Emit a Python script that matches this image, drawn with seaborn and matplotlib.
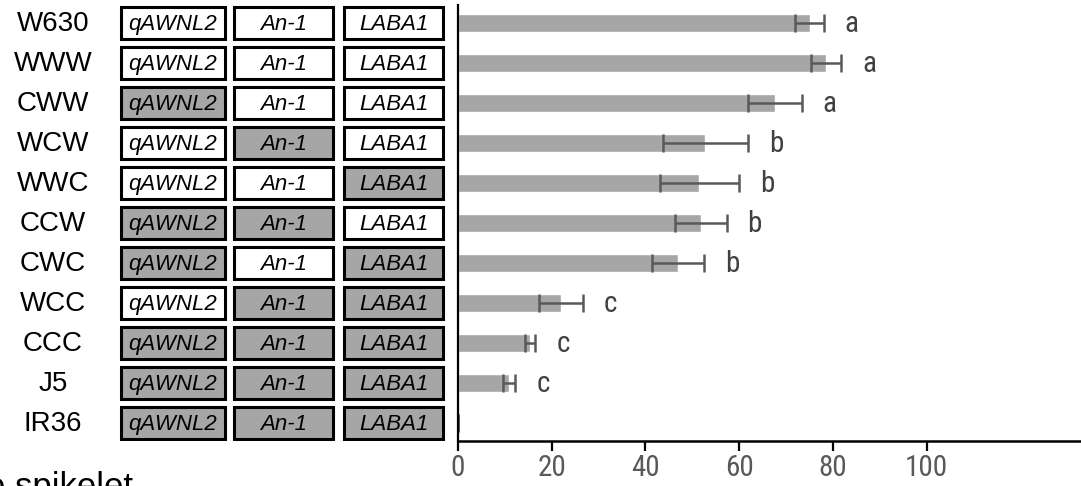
import pandas as pd
import matplotlib
matplotlib.use("Agg")
import matplotlib.pyplot as plt
from matplotlib import font_manager
from matplotlib.patches import Rectangle
import seaborn as sns

# Lines, top to bottom
lines = ['W630', 'WWW', 'CWW', 'WCW', 'WWC', 'CCW', 'CWC', 'WCC', 'CCC', 'J5', 'IR36']
# allele at each locus (W = white box, C = grey box)
alleles = ['WWW', 'WWW', 'CWW', 'WCW', 'WWC', 'CCW', 'CWC', 'WCC', 'CCC', 'CCC', 'CCC']
loci = ['qAWNL2', 'An-1', 'LABA1']

means = [75.0, 78.5, 67.6, 52.8, 51.5, 51.8, 46.9, 21.9, 15.4, 10.9, 0.0]
errs = [3.0, 3.2, 5.7, 9.1, 8.4, 5.5, 5.6, 4.7, 1.1, 1.3, 0.0]
groups = ['a', 'a', 'a', 'b', 'b', 'b', 'b', 'c', 'c', 'c', '']

x_ticks = [0, 20, 40, 60, 80, 100]

df = pd.DataFrame({'line': lines, 'mean': means, 'err': errs})

sns.set_style("white")
plt.rcParams['font.family'] = ['Liberation Sans', 'DejaVu Sans']

# the numbers in the reference use a condensed face; take one if installed
installed = {f.name for f in font_manager.fontManager.ttflist}
narrow = [f for f in ['Liberation Sans Narrow', 'Roboto Condensed', 'Open Sans Condensed',
                      'DejaVu Sans Condensed'] if f in installed] + ['Liberation Sans']
has_narrow = narrow[0] != 'Liberation Sans'
tick_size = 21 if has_narrow else 18
letter_size = 21 if has_narrow else 18

W, H = 1081, 486
fig = plt.figure(figsize=(W / 100, H / 100), dpi=100)

ax_bottom = (H - 441) / H
ax_height = (441 - 5) / H
ax = fig.add_axes([458 / W, ax_bottom, (W - 458) / W, ax_height])

sns.barplot(data=df, x='mean', y='line', orient='h', color='#a6a6a6',
            width=0.43, errorbar=None, saturation=1, ax=ax)
ax.errorbar(df['mean'], range(len(df)), xerr=df['err'], fmt='none',
            ecolor='#595959', elinewidth=1.8, capsize=6.5, capthick=1.8)

for i, (m, e, g) in enumerate(zip(means, errs, groups)):
    ax.text(m + e + 6, i + 0.02, g, ha='center', va='center',
            fontsize=letter_size, color='#404040', family=narrow)

ax.set_xlim(0, (W - 458) / 4.687)
ax.set_ylim(10.45, -0.45)
ax.set_xticks(x_ticks)
ax.set_xticklabels([str(t) for t in x_ticks], fontsize=tick_size, color='#595959',
                   family=narrow)
ax.tick_params(axis='x', direction='out', length=7, width=1.6, color='black',
               pad=2, bottom=True)
ax.set_yticks([])
ax.set_xlabel('')
ax.set_ylabel('')
for s in ['top', 'right']:
    ax.spines[s].set_visible(False)
ax.spines['left'].set_linewidth(1.6)
ax.spines['bottom'].set_linewidth(1.8)
ax.spines['left'].set_color('black')
ax.spines['bottom'].set_color('black')

# left panel: line names and genotype boxes (pixel x units)
lx = fig.add_axes([0, ax_bottom, 458 / W, ax_height])
lx.set_xlim(0, 458)
lx.set_ylim(10.45, -0.45)
lx.axis('off')

box_left = [121, 234, 344]
box_width = [104, 99, 99]
for i, (name, geno) in enumerate(zip(lines, alleles)):
    lx.text(53, i + 0.03, name, ha='center', va='center', fontsize=20, color='black')
    for j, locus in enumerate(loci):
        fill = '#a6a6a6' if geno[j] == 'C' else 'white'
        lx.add_patch(Rectangle((box_left[j], i - 0.4), box_width[j], 0.8,
                               facecolor=fill, edgecolor='black', linewidth=2.2))
        lx.text(box_left[j] + box_width[j] / 2, i + 0.03, locus, ha='center',
                va='center', fontsize=16, style='italic', color='black')

# axis title, cut by the lower edge as in the source figure
fig.text(-14 / W, (H - 497) / H, 'e spikelet', ha='left', va='baseline',
         fontsize=25, color='black')

fig.savefig('out.png', dpi=100)
